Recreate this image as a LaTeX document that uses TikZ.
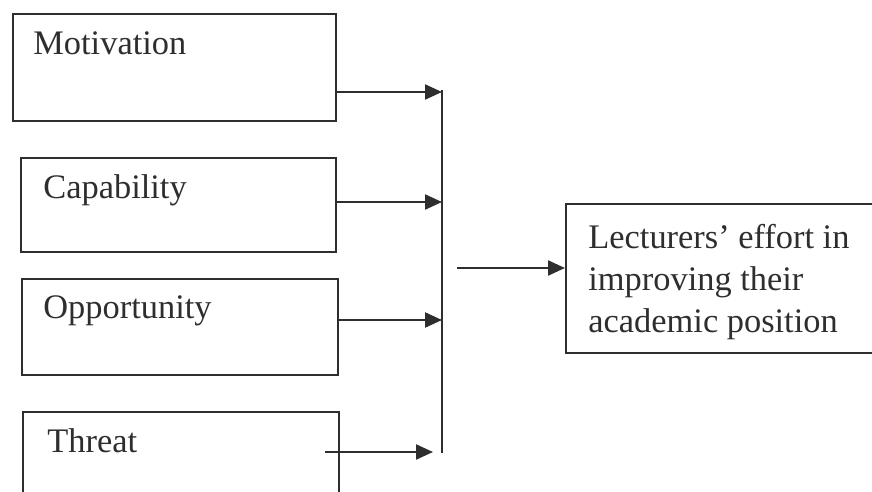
\documentclass[tikz,border=0pt]{standalone}
\usepackage{fontspec}
\setmainfont{Liberation Serif}
\usetikzlibrary{arrows.meta,calc}
\definecolor{ink}{HTML}{2E2E2E}
\begin{document}
\begin{tikzpicture}[x=0.5pt,y=-0.5pt,
  box/.style={draw=ink,line width=1.2pt,rectangle,inner sep=0pt,anchor=north west},
  lbl/.style={anchor=base west,inner sep=0pt,text=ink,font=\fontsize{17.2}{21}\selectfont},
  conn/.style={draw=ink,line width=1.1pt,-{Triangle[length=8.5pt,width=7.5pt]}},
  bus/.style={draw=ink,line width=1.2pt}]
\useasboundingbox[fill=white] (0,0) rectangle (872,492);

% boxes
\node[box,minimum width=161.5pt,minimum height=53.5pt] (mot) at (12,13) {};
\node[box,minimum width=157.5pt,minimum height=47pt] (cap) at (20,157) {};
\node[box,minimum width=158pt,minimum height=48pt] (opp) at (21,278) {};
\node[box,minimum width=158pt,minimum height=60pt] (thr) at (22,411) {};
\node[box,minimum width=158pt,minimum height=74.5pt] (out) at (565,203) {};

% labels
\node[lbl] (motT) at (33,55) {Motivation};
\node[lbl] (capT) at (43,198) {Capability};
\node[lbl] (oppT) at (43,318) {Opportunity};
\node[lbl] (thrT) at (47,452) {Threat};
\node[lbl] (outT1) at (588,248) {Lecturers’ effort in};
\node[lbl] (outT2) at (588,290) {improving their};
\node[lbl] (outT3) at (588,332) {academic position};

% junction points
\coordinate (bt) at (442,90);
\coordinate (bb) at (442,453);
\coordinate (j1) at (442,92);
\coordinate (j2) at (442,202);
\coordinate (j3) at (442,320);
\coordinate (t4s) at (325,452);
\coordinate (t4e) at (433,452);
\coordinate (os) at (457,268);

% bus line
\draw[bus] (bt) -- (bb);

% connectors
\draw[conn] (mot.east |- j1) -- (j1);
\draw[conn] (cap.east |- j2) -- (j2);
\draw[conn] (opp.east |- j3) -- (j3);
\draw[conn] (t4s) -- (t4e);
\draw[conn] (os) -- (out.west |- os);
\end{tikzpicture}
\end{document}
